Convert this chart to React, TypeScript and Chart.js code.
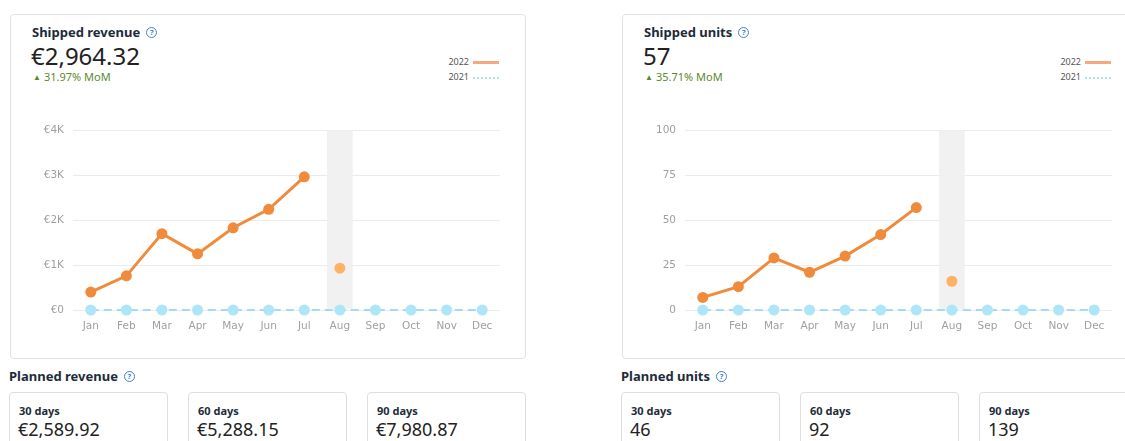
import React, { useEffect, useRef } from "react";
import { Chart, registerables } from "chart.js";

Chart.register(...registerables);

const months = ["Jan", "Feb", "Mar", "Apr", "May", "Jun", "Jul", "Aug", "Sep", "Oct", "Nov", "Dec"];

const revenue2022 = [400, 760, 1700, 1250, 1830, 2240, 2964.32, null, null, null, null, null];
const revenueForecast = [null, null, null, null, null, null, null, 930, null, null, null, null];
const revenue2021 = [0, 0, 0, 0, 0, 0, 0, 0, 0, 0, 0, 0];
const revenueBand = [null, null, null, null, null, null, null, 4000, null, null, null, null];
const revenueTicks = ["€0", "€1K", "€2K", "€3K", "€4K"];
const revenueStep = 1000;

const units2022 = [7, 13, 29, 21, 30, 42, 57, null, null, null, null, null];
const unitsForecast = [null, null, null, null, null, null, null, 16, null, null, null, null];
const units2021 = [0, 0, 0, 0, 0, 0, 0, 0, 0, 0, 0, 0];
const unitsBand = [null, null, null, null, null, null, null, 100, null, null, null, null];
const unitsTicks = ["0", "25", "50", "75", "100"];
const unitsStep = 25;

const legendLabels = ["2022", "2021"];

const plannedRevenueLabels = ["30 days", "60 days", "90 days"];
const plannedRevenueValues = ["€2,589.92", "€5,288.15", "€7,980.87"];
const plannedUnitsLabels = ["30 days", "60 days", "90 days"];
const plannedUnitsValues = ["46", "92", "139"];

const FONT = "'Noto Sans', 'Open Sans', sans-serif";
const TICK_FONT = "'DejaVu Sans', sans-serif";

function LineChart(props: {
  line: (number | null)[];
  forecast: (number | null)[];
  prev: number[];
  band: (number | null)[];
  ticks: string[];
  step: number;
}) {
  const ref = useRef<HTMLCanvasElement | null>(null);
  useEffect(() => {
    if (!ref.current) return;
    const max = props.step * (props.ticks.length - 1);
    const chart = new Chart(ref.current, {
      type: "line",
      data: {
        labels: months,
        datasets: [
          {
            type: "bar",
            data: props.band as any,
            backgroundColor: "#f1f1f1",
            order: 10,
            barPercentage: 0.9,
            categoryPercentage: 0.8,
          } as any,
          {
            data: props.prev,
            borderColor: "#a3dcf0",
            borderWidth: 2,
            borderDash: [8, 5],
            pointRadius: 5.5,
            pointBackgroundColor: "#aee6f8",
            pointBorderWidth: 0,
            tension: 0,
            order: 3,
            clip: false,
          } as any,
          {
            data: props.line,
            borderColor: "#f08b3b",
            borderWidth: 3,
            pointRadius: 5.5,
            pointBackgroundColor: "#f08b3b",
            pointBorderWidth: 0,
            tension: 0,
            spanGaps: false,
            order: 1,
            clip: false,
          } as any,
          {
            data: props.forecast,
            showLine: false,
            pointRadius: 5.5,
            pointBackgroundColor: "#fdb264",
            pointBorderWidth: 0,
            order: 2,
            clip: false,
          } as any,
        ],
      },
      options: {
        animation: false,
        responsive: false,
        maintainAspectRatio: false,
        events: [],
        layout: { padding: { top: 15, right: 20, left: 0, bottom: 0 } },
        plugins: { legend: { display: false }, tooltip: { enabled: false } },
        scales: {
          x: {
            offset: true,
            grid: { display: false, drawTicks: false },
            border: { display: false },
            ticks: {
              color: "#9f9f9f",
              font: { family: TICK_FONT, size: 10.5 },
              padding: 10,
              maxRotation: 0,
              autoSkip: false,
            },
            afterFit: (s: any) => {
              s.height = 30;
            },
          },
          y: {
            min: 0,
            max: max,
            grid: { color: "#ebebeb", lineWidth: 1, drawTicks: false },
            border: { display: false },
            ticks: {
              stepSize: props.step,
              color: "#9f9f9f",
              font: { family: TICK_FONT, size: 10.5 },
              padding: 9,
              callback: (_v: any, i: number) => props.ticks[i],
            },
            afterFit: (s: any) => {
              s.width = 53;
            },
          },
        },
      } as any,
    });
    return () => chart.destroy();
  }, []);
  return <canvas ref={ref} width={500} height={225} style={{ position: "absolute", left: 0, top: 0, width: 500, height: 225 }} />;
}

function Help() {
  return (
    <span
      style={{
        display: "inline-block",
        verticalAlign: "middle",
        marginLeft: 6,
        position: "relative",
        top: -1,
        width: 9,
        height: 9,
        border: "1.2px solid #3f80d8",
        borderRadius: "50%",
        color: "#3f80d8",
        fontSize: 7.5,
        lineHeight: "9px",
        textAlign: "center",
        fontFamily: FONT,
        fontWeight: 700,
      }}
    >
      ?
    </span>
  );
}

function Card(props: {
  dx: number;
  title: string;
  value: string;
  mom: string;
  chart: React.ReactNode;
  planTitle: string;
  planLabels: string[];
  planValues: string[];
}) {
  const dx = props.dx;
  const boxLefts = [9, 188, 367];
  return (
    <>
      <div
        style={{
          position: "absolute",
          left: 10 + dx,
          top: 14,
          width: 516,
          height: 345,
          border: "1px solid #e2e2e2",
          borderRadius: 4,
          boxSizing: "border-box",
        }}
      />
      <div
        style={{
          position: "absolute",
          left: 32 + dx,
          top: 23,
          fontSize: 13,
          lineHeight: "18px",
          fontWeight: 700,
          color: "#1d2b3a",
          fontFamily: FONT,
          whiteSpace: "nowrap",
        }}
      >
        {props.title}
        <Help />
      </div>
      <div
        style={{
          position: "absolute",
          left: 31 + dx,
          top: 41,
          fontSize: 24,
          lineHeight: "30px",
          color: "#222",
          fontFamily: FONT,
          whiteSpace: "nowrap",
        }}
      >
        {props.value}
      </div>
      <div
        style={{
          position: "absolute",
          left: 33 + dx,
          top: 69,
          fontSize: 11,
          lineHeight: "16px",
          color: "#5d8a2c",
          fontFamily: FONT,
          whiteSpace: "nowrap",
        }}
      >
        <span style={{ fontSize: 8, marginRight: 3, position: "relative", top: -1 }}>▲</span>
        {props.mom}
      </div>
      {/* legend */}
      <div
        style={{
          position: "absolute",
          left: 430 + dx,
          width: 39,
          top: 55,
          textAlign: "right",
          fontSize: 9,
          lineHeight: "14px",
          color: "#555",
          fontFamily: FONT,
        }}
      >
        {legendLabels[0]}
      </div>
      <div style={{ position: "absolute", left: 473 + dx, top: 61, width: 26, height: 3, background: "#f6a97e" }} />
      <div
        style={{
          position: "absolute",
          left: 430 + dx,
          width: 39,
          top: 70,
          textAlign: "right",
          fontSize: 9,
          lineHeight: "14px",
          color: "#555",
          fontFamily: FONT,
        }}
      >
        {legendLabels[1]}
      </div>
      <div style={{ position: "absolute", left: 473 + dx, top: 77, width: 26, height: 0, borderTop: "2px dotted #a6e4f0" }} />
      <div style={{ position: "absolute", left: 20 + dx, top: 115, width: 500, height: 225 }}>{props.chart}</div>
      {/* planned */}
      <div
        style={{
          position: "absolute",
          left: 9 + dx,
          top: 367,
          fontSize: 13,
          lineHeight: "18px",
          fontWeight: 700,
          color: "#1d2b3a",
          fontFamily: FONT,
          whiteSpace: "nowrap",
        }}
      >
        {props.planTitle}
        <Help />
      </div>
      {boxLefts.map((bl, i) => (
        <React.Fragment key={i}>
          <div
            style={{
              position: "absolute",
              left: bl + dx,
              top: 392,
              width: 159,
              height: 70,
              border: "1px solid #dedede",
              borderRadius: 4,
              boxSizing: "border-box",
            }}
          />
          <div
            style={{
              position: "absolute",
              left: bl + dx + 10,
              top: 403,
              fontSize: 11,
              lineHeight: "16px",
              fontWeight: 700,
              color: "#1d2b3a",
              fontFamily: FONT,
              whiteSpace: "nowrap",
            }}
          >
            {props.planLabels[i]}
          </div>
          <div
            style={{
              position: "absolute",
              left: bl + dx + 9,
              top: 418,
              fontSize: 18,
              lineHeight: "22px",
              color: "#222",
              fontFamily: FONT,
              whiteSpace: "nowrap",
            }}
          >
            {props.planValues[i]}
          </div>
        </React.Fragment>
      ))}
    </>
  );
}

export default function App() {
  return (
    <div style={{ position: "relative", width: 1125, height: 441, overflow: "hidden", background: "#fff" }}>
      <style>{`body{margin:0;}`}</style>
      <Card
        dx={0}
        title="Shipped revenue"
        value="€2,964.32"
        mom="31.97% MoM"
        chart={
          <LineChart
            line={revenue2022}
            forecast={revenueForecast}
            prev={revenue2021}
            band={revenueBand}
            ticks={revenueTicks}
            step={revenueStep}
          />
        }
        planTitle="Planned revenue"
        planLabels={plannedRevenueLabels}
        planValues={plannedRevenueValues}
      />
      <Card
        dx={612}
        title="Shipped units"
        value="57"
        mom="35.71% MoM"
        chart={
          <LineChart
            line={units2022}
            forecast={unitsForecast}
            prev={units2021}
            band={unitsBand}
            ticks={unitsTicks}
            step={unitsStep}
          />
        }
        planTitle="Planned units"
        planLabels={plannedUnitsLabels}
        planValues={plannedUnitsValues}
      />
    </div>
  );
}
